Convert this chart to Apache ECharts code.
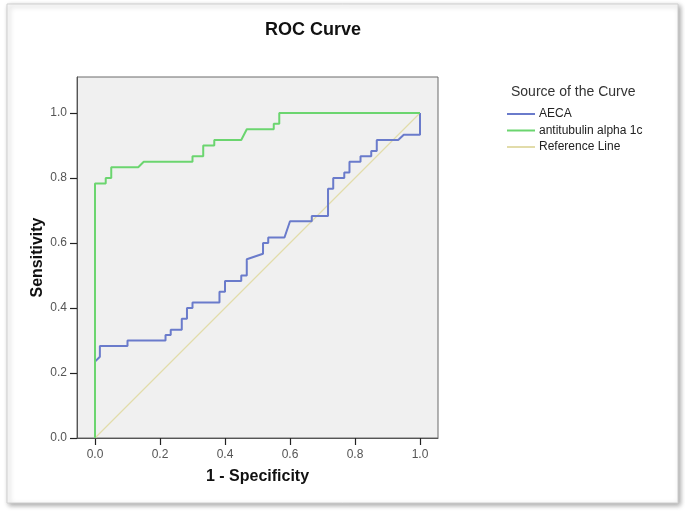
<!DOCTYPE html>
<html><head><meta charset="utf-8">
<script src="https://cdn.jsdelivr.net/npm/echarts@6/dist/echarts.min.js"></script>
<style>html,body{margin:0;padding:0;background:#fff}#c{width:685px;height:513px}</style>
</head><body><div id="c"></div>
<script>
var titleText = 'ROC Curve';
var xName = '1 - Specificity';
var yName = 'Sensitivity';
var legendTitle = 'Source of the Curve';
var seriesNames = ['AECA', 'antitubulin alpha 1c', 'Reference Line'];
var tickValues = [0, 0.2, 0.4, 0.6, 0.8, 1.0];

var aecaFpr  = [0,0,0.015,0.015,0.1,0.1,0.217,0.217,0.233,0.233,0.267,0.267,0.283,0.283,0.30,0.30,0.383,0.383,0.40,0.40,0.45,0.45,0.467,0.467,0.517,0.517,0.533,0.533,0.583,0.60,0.667,0.667,0.717,0.717,0.733,0.733,0.767,0.767,0.783,0.783,0.817,0.817,0.85,0.85,0.867,0.867,0.933,0.95,1,1];
var aecaSens = [0,0.235,0.25,0.283,0.283,0.30,0.30,0.317,0.317,0.333,0.333,0.367,0.367,0.40,0.40,0.417,0.417,0.45,0.45,0.483,0.483,0.50,0.50,0.55,0.567,0.60,0.60,0.617,0.617,0.667,0.667,0.683,0.683,0.767,0.767,0.80,0.80,0.817,0.817,0.85,0.85,0.867,0.867,0.883,0.883,0.917,0.917,0.933,0.933,1];

var tubFpr  = [0,0,0.033,0.033,0.05,0.05,0.133,0.15,0.30,0.30,0.333,0.333,0.367,0.367,0.45,0.467,0.55,0.55,0.567,0.567,1];
var tubSens = [0,0.783,0.783,0.80,0.80,0.833,0.833,0.85,0.85,0.867,0.867,0.90,0.90,0.917,0.917,0.95,0.95,0.967,0.967,1,1];

var refFpr = [0, 1];
var refSens = [0, 1];

function pairs(xs, ys){ return xs.map(function(x,i){ return [x, ys[i]]; }); }

var chart = echarts.init(document.getElementById('c'), null, {renderer:'canvas'});
var F = '"Liberation Sans", Arial, sans-serif';
chart.setOption({
  animation: false,
  textStyle: {fontFamily: F},
  graphic: [
    {type:'rect', z:-10, silent:true, shape:{x:7,y:4,width:671,height:499},
     style:{fill:'#fff', stroke:'#d0d0d0', lineWidth:1, shadowBlur:5, shadowColor:'rgba(0,0,0,0.35)', shadowOffsetX:2, shadowOffsetY:2}},
    {type:'text', z:5, x:313, y:30, style:{text:titleText, font:'bold 18px '+F, fill:'#111', align:'center', verticalAlign:'middle'}},
    {type:'text', z:5, x:511, y:92, style:{text:legendTitle, font:'14px '+F, fill:'#333', align:'left', verticalAlign:'middle'}}
  ],
  grid: {left:77, top:77, width:361, height:361, containLabel:false, show:true,
         backgroundColor:'#f0f0f0', borderColor:'#6a6a6a', borderWidth:1},
  xAxis: {
    type:'value', min:-18/325, max:1+18/325, position:'bottom',
    name:xName, nameLocation:'middle', nameGap:31, nameMoveOverlap:false,
    nameTextStyle:{fontSize:16, fontWeight:'bold', color:'#111', fontFamily:F},
    axisLine:{show:true, onZero:false, lineStyle:{color:'#555', width:1}},
    axisTick:{show:true, inside:false, length:7, customValues:tickValues, lineStyle:{color:'#222', width:1.2}},
    axisLabel:{fontSize:12, color:'#555', margin:11, customValues:tickValues, formatter:function(v){return v.toFixed(1);}},
    splitLine:{show:false}
  },
  yAxis: {
    type:'value', min:0, max:1+36/325,
    name:yName, nameLocation:'middle', nameGap:31, nameRotate:90, nameMoveOverlap:false,
    nameTextStyle:{fontSize:16, fontWeight:'bold', color:'#111', fontFamily:F},
    axisLine:{show:true, onZero:false, lineStyle:{color:'#555', width:1}},
    axisTick:{show:true, inside:false, length:7, customValues:tickValues, lineStyle:{color:'#222', width:1.2}},
    axisLabel:{fontSize:12, color:'#555', margin:10, customValues:tickValues, formatter:function(v){return v.toFixed(1);}},
    splitLine:{show:false}
  },
  legend: {
    orient:'vertical', left:507, top:108, itemGap:4.5, itemWidth:28, itemHeight:2,
    icon:'rect', data:seriesNames, padding:0,
    textStyle:{fontSize:12, color:'#222', fontFamily:F, padding:[0,0,0,-1]}
  },
  series: [
    {name:seriesNames[0], type:'line', data:pairs(aecaFpr, aecaSens), showSymbol:false, symbol:'none', clip:false,
     lineStyle:{color:'#6a7bcb', width:2}, itemStyle:{color:'#6a7bcb'}, z:3},
    {name:seriesNames[1], type:'line', data:pairs(tubFpr, tubSens), showSymbol:false, symbol:'none', clip:false,
     lineStyle:{color:'#6bd56f', width:2}, itemStyle:{color:'#6bd56f'}, z:4},
    {name:seriesNames[2], type:'line', data:pairs(refFpr, refSens), showSymbol:false, symbol:'none', clip:false,
     lineStyle:{color:'#e2dcaa', width:1.2}, itemStyle:{color:'#e2dcaa'}, z:2}
  ]
});
</script></body></html>
